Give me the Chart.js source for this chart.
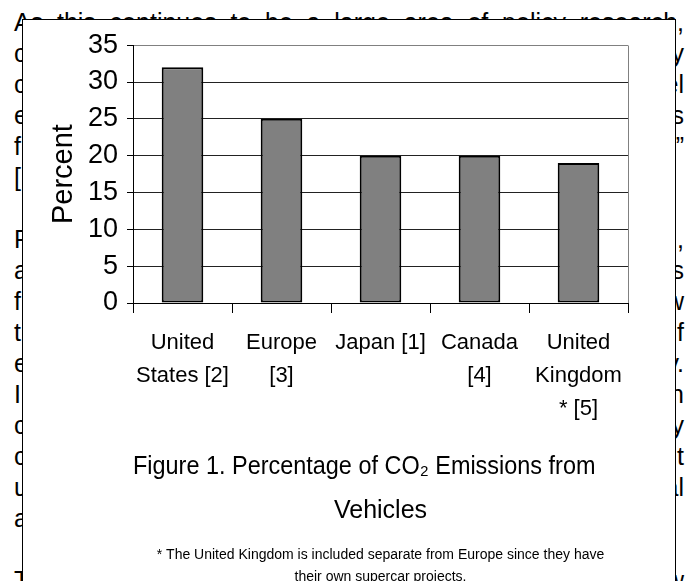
<!DOCTYPE html>
<html>
<head>
<meta charset="utf-8">
<script src="https://cdn.jsdelivr.net/npm/chart.js@4/dist/chart.umd.min.js"></script>
<style>
  html, body { margin: 0; padding: 0; background: #fff; width: 691px; height: 581px; overflow: hidden; }
  body { position: relative; font-family: "Liberation Sans", Arial, sans-serif; color: #000; }
  #page { position: absolute; left: 14px; top: 7px; width: 670px; font-size: 25px; line-height: 31px; }
  .full { height: 31px; text-align: justify; text-align-last: justify; white-space: nowrap; }
  .row { height: 31px; display: flex; justify-content: space-between; white-space: pre; }
  #frame { position: absolute; left: 22px; top: 19px; width: 652px; height: 570px; border: 1px solid #000; background: #fff; }
  #chart { display: block; }
</style>
</head>
<body>
<div id="page"></div>
<div id="frame"><canvas id="chart" width="652" height="570"></canvas></div>
<script>
// Chart data
const categories = [["United", "States [2]"], ["Europe", "[3]"], "Japan [1]", ["Canada", "[4]"], ["United", "Kingdom", "* [5]"]];
const percentValues = [32, 25, 20, 20, 19];
const yMin = 0;
const yMax = 35;
const yStep = 5;
const axisTitle = "Percent";
const captionLines = ["Figure 1. Percentage of CO\u2082 Emissions from     ", "Vehicles"];
const footnoteLines = ["* The United Kingdom is included separate from Europe since they have", "their own supercar projects."];

// Surrounding page text: first line in full, then the edge characters of each line
const firstLine = "As this continues to be a large area of policy research,";
const lineStarts = ["c", "c", "e", "f", "[", "", "R", "a", "f", "t", "e", "I", "c", "c", "u", "a", "", "T"];
const lineEnds   = ["y", "el", "s", "\u201D", "", "", ",", "s", "w", "f", "y.", "n", "y", "t", "al", "", "", "w"];

const page = document.getElementById('page');
const head = document.createElement('div');
head.className = 'full';
head.textContent = firstLine;
page.appendChild(head);
lineStarts.forEach((s, i) => {
  const row = document.createElement('div');
  row.className = 'row';
  const a = document.createElement('span'); a.textContent = s;
  const b = document.createElement('span'); b.textContent = lineEnds[i];
  row.appendChild(a); row.appendChild(b);
  page.appendChild(row);
});

const FONT = '"Liberation Sans", Arial, sans-serif';
Chart.defaults.color = '#000';
Chart.defaults.font.family = FONT;

// grey frame line on the right side of the plot area
const plotFrame = {
  id: 'plotFrame',
  beforeDatasetsDraw(chart) {
    const { ctx, chartArea: a } = chart;
    ctx.save();
    ctx.strokeStyle = '#808080';
    ctx.lineWidth = 1;
    const x = Math.round(a.right) + 0.5;
    ctx.beginPath();
    ctx.moveTo(x, Math.round(a.top) + 0.5);
    ctx.lineTo(x, a.bottom);
    ctx.stroke();
    ctx.restore();
  }
};

new Chart(document.getElementById('chart'), {
  type: 'bar',
  data: {
    labels: categories,
    datasets: [{
      data: percentValues,
      backgroundColor: '#808080',
      borderColor: '#000',
      borderWidth: 2,
      borderSkipped: false,
      barPercentage: 0.42,
      categoryPercentage: 1.0
    }]
  },
  options: {
    responsive: false,
    animation: false,
    events: [],
    layout: { padding: { top: 23, left: 0, right: 47, bottom: 1.2 } },
    scales: {
      x: {
        offset: true,
        grid: { display: true, drawOnChartArea: false, drawTicks: true, tickLength: 10, color: '#000', offset: true },
        border: { display: true, color: '#000', width: 1 },
        ticks: { font: { size: 22, lineHeight: 1.5 }, padding: 13, maxRotation: 0, autoSkip: false, color: '#000' }
      },
      y: {
        min: yMin,
        max: yMax,
        afterFit(scale) { scale.width = 110; },
        grid: {
          drawTicks: true,
          tickLength: 6,
          tickColor: '#000',
          color: (c) => (c.tick && c.tick.value === yMax ? '#808080' : '#222')
        },
        border: { display: true, color: '#000', width: 1 },
        ticks: { stepSize: yStep, autoSkip: false, font: { size: 27 }, padding: 9, color: '#000' },
        title: { display: true, text: axisTitle, font: { size: 29 }, padding: { top: 24, bottom: 0 }, color: '#000' }
      }
    },
    plugins: {
      legend: { display: false },
      tooltip: { enabled: false },
      title: {
        display: true,
        text: captionLines,
        position: 'bottom',
        fullSize: false,
        weight: 1000,
        color: '#000',
        font: { size: 25, weight: 'normal', lineHeight: 1.76 },
        padding: { top: 7, bottom: 0 }
      },
      subtitle: {
        display: true,
        text: footnoteLines,
        position: 'bottom',
        fullSize: false,
        weight: 1500,
        color: '#000',
        font: { size: 14, weight: 'normal', lineHeight: 1.6 },
        padding: { top: 11, bottom: 0 }
      }
    }
  },
  plugins: [plotFrame]
});
</script>
</body>
</html>
